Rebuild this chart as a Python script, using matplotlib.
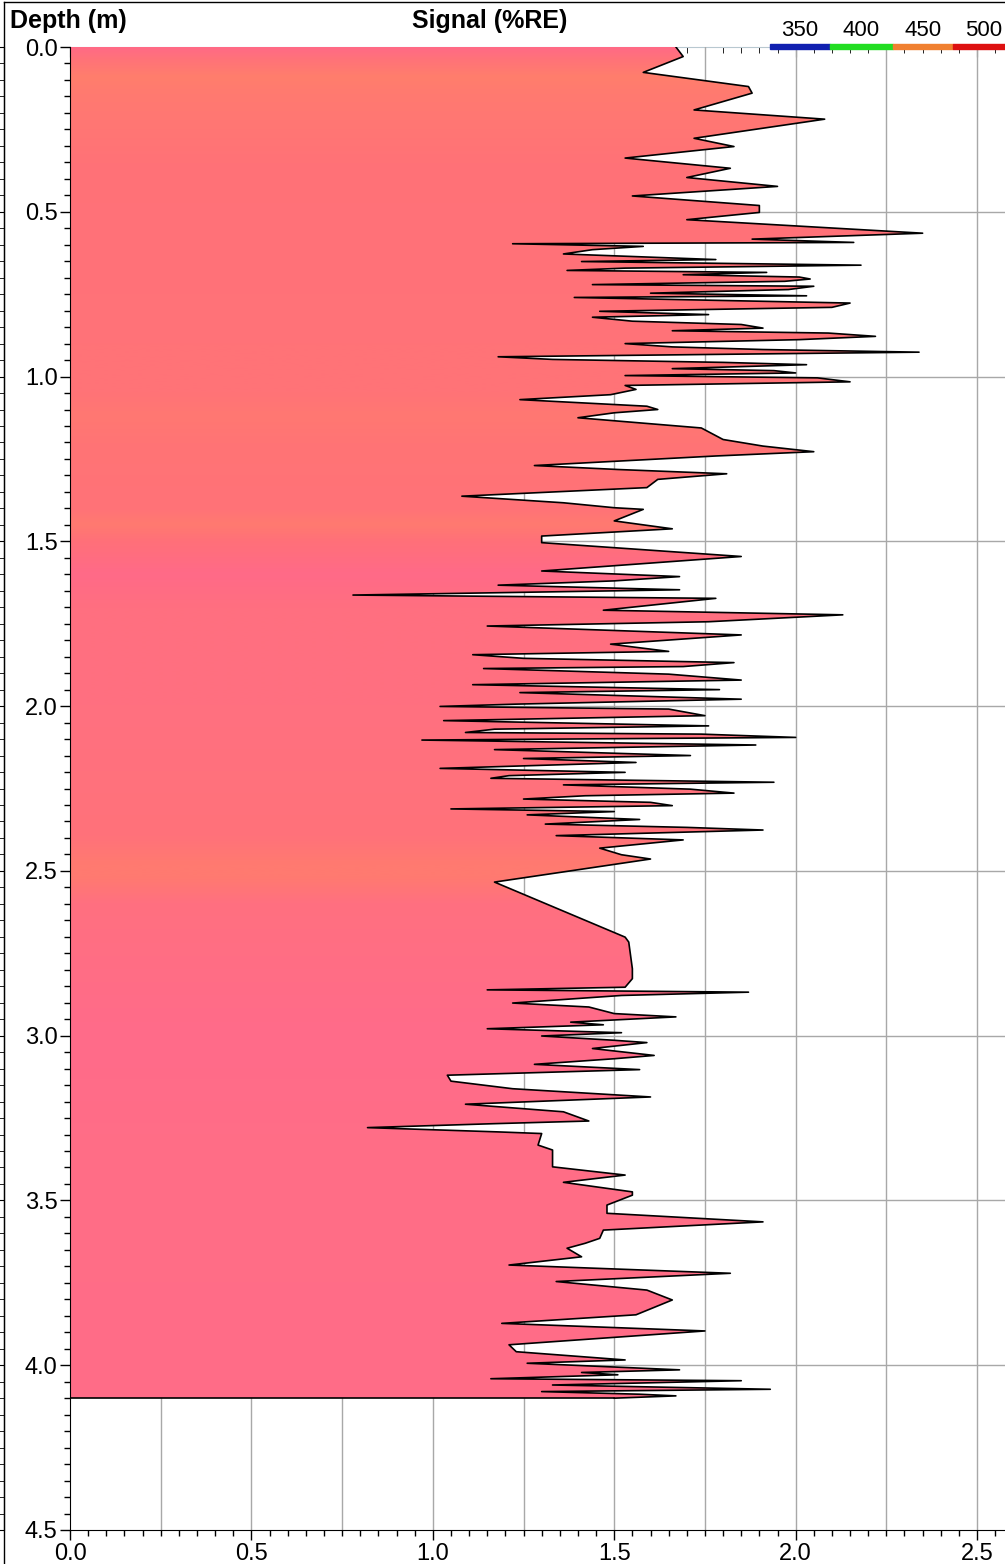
import numpy as np
import matplotlib
matplotlib.use('Agg')
import matplotlib.pyplot as plt
from matplotlib.patches import Polygon, Rectangle
from matplotlib.lines import Line2D
from matplotlib.colors import to_rgb
from matplotlib.ticker import MultipleLocator, FormatStrFormatter

plt.rcParams.update({'font.family': ['Liberation Sans', 'DejaVu Sans']})

# depth (m) and signal (%RE) of the log, top to bottom
depth = [
    0.000, 0.029, 0.077, 0.120, 0.140, 0.191, 0.219, 0.277, 0.302, 0.337,
    0.368, 0.396, 0.423, 0.452, 0.481, 0.502, 0.524, 0.565, 0.583, 0.593,
    0.597, 0.605, 0.615, 0.628, 0.645, 0.651, 0.662, 0.671, 0.678, 0.684,
    0.691, 0.698, 0.704,
    0.711, 0.721, 0.726, 0.736, 0.747, 0.755, 0.760, 0.777, 0.790, 0.802,
    0.812, 0.820, 0.832, 0.842, 0.853, 0.861, 0.868, 0.878, 0.888, 0.900,
    0.910, 0.918, 0.926, 0.940, 0.948, 0.957, 0.964, 0.976, 0.982, 0.989,
    0.997, 1.004, 1.016, 1.027, 1.039, 1.055, 1.070, 1.090, 1.100, 1.110,
    1.125, 1.156, 1.191, 1.211, 1.228, 1.241, 1.270, 1.282, 1.295, 1.312,
    1.337, 1.363, 1.383, 1.398,
    1.403, 1.438, 1.462, 1.484, 1.504, 1.546, 1.590, 1.607, 1.620, 1.633,
    1.647, 1.663, 1.673, 1.709, 1.723, 1.744, 1.757, 1.784, 1.812, 1.834,
    1.844, 1.855, 1.868, 1.880, 1.886, 1.903, 1.921, 1.935, 1.950, 1.959,
    1.979, 1.994, 2.001, 2.009, 2.029, 2.044, 2.060, 2.070, 2.080, 2.085,
    2.095,
    2.103, 2.118, 2.132, 2.150, 2.159, 2.171, 2.189, 2.201, 2.211, 2.219,
    2.231, 2.239, 2.252, 2.264, 2.272, 2.282, 2.292, 2.302, 2.312, 2.320,
    2.330, 2.344, 2.358, 2.368, 2.376, 2.393, 2.406, 2.431, 2.451, 2.464,
    2.534, 2.701, 2.716, 2.797,
    2.827, 2.853, 2.861, 2.868, 2.878, 2.901, 2.913, 2.933, 2.943, 2.959,
    2.967, 2.979, 2.991, 3.001, 3.014, 3.021, 3.039, 3.060, 3.070, 3.087,
    3.103, 3.120, 3.138, 3.161, 3.186, 3.208, 3.231, 3.259, 3.267, 3.279,
    3.292, 3.297, 3.332, 3.347, 3.398, 3.423, 3.445, 3.474,
    3.484, 3.514, 3.539, 3.565, 3.590, 3.615, 3.630, 3.645, 3.671, 3.696,
    3.721, 3.746, 3.772, 3.802, 3.847, 3.873, 3.896, 3.938, 3.959, 3.984,
    3.994, 4.014, 4.022, 4.029, 4.041, 4.047, 4.060, 4.073, 4.080, 4.088,
    4.093, 4.100,
]
signal = [
    1.67, 1.69, 1.58, 1.87, 1.88, 1.72, 2.08, 1.72, 1.83, 1.53,
    1.82, 1.70, 1.95, 1.55, 1.90, 1.90, 1.70, 2.35, 1.88, 2.16,
    1.22, 1.58, 1.44, 1.36, 1.78, 1.41, 2.18, 1.53, 1.37, 1.92,
    1.69, 2.01, 2.04,
    1.97, 1.44, 2.05, 1.98, 1.60, 2.03, 1.39, 2.15, 2.10, 1.46,
    1.76, 1.44, 1.55, 1.85, 1.91, 1.66, 2.09, 2.22, 2.01, 1.53,
    1.66, 1.91, 2.34, 1.18, 1.33, 1.80, 2.03, 1.66, 1.94, 2.00,
    1.53, 2.06, 2.15, 1.53, 1.56, 1.49, 1.24, 1.59, 1.62, 1.50,
    1.40, 1.74, 1.80, 1.91, 2.05, 1.78, 1.28, 1.51, 1.81, 1.62,
    1.59, 1.08, 1.36, 1.50,
    1.58, 1.50, 1.66, 1.30, 1.30, 1.85, 1.30, 1.68, 1.50, 1.18,
    1.68, 0.78, 1.78, 1.47, 2.13, 1.76, 1.15, 1.85, 1.49, 1.65,
    1.11, 1.25, 1.83, 1.69, 1.14, 1.65, 1.85, 1.11, 1.79, 1.24,
    1.85, 1.23, 1.02, 1.65, 1.75, 1.03, 1.76, 1.17, 1.09, 1.74,
    2.00,
    0.97, 1.89, 1.17, 1.71, 1.25, 1.56, 1.02, 1.53, 1.21, 1.16,
    1.94, 1.36, 1.71, 1.83, 1.42, 1.25, 1.60, 1.66, 1.05, 1.50,
    1.26, 1.57, 1.31, 1.70, 1.91, 1.34, 1.69, 1.46, 1.52, 1.60,
    1.17, 1.53, 1.54, 1.55,
    1.55, 1.53, 1.15, 1.87, 1.52, 1.22, 1.43, 1.50, 1.67, 1.38,
    1.47, 1.15, 1.52, 1.30, 1.50, 1.59, 1.44, 1.61, 1.50, 1.28,
    1.57, 1.04, 1.05, 1.22, 1.60, 1.09, 1.36, 1.43, 1.17, 0.82,
    1.18, 1.30, 1.29, 1.33, 1.33, 1.53, 1.36, 1.55,
    1.55, 1.48, 1.48, 1.91, 1.47, 1.46, 1.42, 1.37, 1.41, 1.21,
    1.82, 1.34, 1.59, 1.66, 1.56, 1.19, 1.75, 1.21, 1.23, 1.53,
    1.26, 1.68, 1.41, 1.51, 1.16, 1.85, 1.33, 1.93, 1.30, 1.57,
    1.67, 1.50,
]

# fill colour key stops down the log
color_depths = [0.00, 0.04, 0.09, 0.14, 0.25, 0.35, 0.60, 0.90, 1.05, 1.12,
                1.20, 1.40, 1.45, 1.50, 1.60, 1.70, 2.00, 2.40, 2.48, 2.52,
                2.60, 3.00, 3.40, 4.10]
color_hex = ['#FF6A86', '#FF7378', '#FF7E6C', '#FF7A70', '#FF7674', '#FF7277',
             '#FF7179', '#FF7378', '#FF7377', '#FF7872', '#FF7475', '#FF7278',
             '#FF7A70', '#FF7079', '#FF6A88', '#FF6F80', '#FF7080', '#FF727A',
             '#FF7A70', '#FF7A70', '#FF7080', '#FF6B8A', '#FF6E86', '#FF6C88']

legend_labels = ['350', '400', '450', '500']
legend_colors = ['#1020B0', '#22DD22', '#F08030', '#DD1010']

W, H = 1005, 1564
fig = plt.figure(figsize=(W / 100, H / 100), dpi=100)
L, R, T, B = 70, 1005, 47, 1530
ax = fig.add_axes([L / W, 1 - B / H, (R - L) / W, (B - T) / H])

# vertical colour gradient clipped to the log outline
zz = np.linspace(0, depth[-1], 600)
rgb = np.array([to_rgb(c) for c in color_hex])
img = np.stack([np.interp(zz, color_depths, rgb[:, k]) for k in range(3)], axis=-1)[:, None, :]
im = ax.imshow(img, extent=[0, 3, depth[-1], 0], aspect='auto', interpolation='bilinear', zorder=2)
verts = [(0, depth[0])] + list(zip(signal, depth)) + [(0, depth[-1])]
outline = Polygon(verts, closed=True, facecolor='none', edgecolor='none')
ax.add_patch(outline)
im.set_clip_path(outline)

ax.plot(signal, depth, color='black', lw=1.2, zorder=3)
ax.plot([0, signal[-1]], [depth[-1], depth[-1]], color='black', lw=1.2, zorder=3)

for gx in np.arange(0.25, 2.6, 0.25):
    ax.axvline(gx, color='#A8A8A8', lw=1.0, zorder=1)
for gy in np.arange(0.5, 4.5, 0.5):
    ax.axhline(gy, color='#A8A8A8', lw=1.0, zorder=1)

ax.set_xlim(0, 2.577)
ax.set_ylim(4.5, 0)
ax.spines['right'].set_visible(False)
ax.spines['top'].set_visible(False)
ax.xaxis.set_major_locator(MultipleLocator(0.5))
ax.xaxis.set_minor_locator(MultipleLocator(0.05))
ax.yaxis.set_major_locator(MultipleLocator(0.5))
ax.yaxis.set_minor_locator(MultipleLocator(0.05))
ax.xaxis.set_major_formatter(FormatStrFormatter('%.1f'))
ax.yaxis.set_major_formatter(FormatStrFormatter('%.1f'))
ax.tick_params(which='major', direction='out', length=7, width=1, labelsize=17, pad=2)
ax.tick_params(which='minor', direction='out', length=4, width=1)

top = ax.secondary_xaxis('top')
top.xaxis.set_major_locator(MultipleLocator(0.5))
top.xaxis.set_minor_locator(MultipleLocator(0.05))
top.tick_params(which='major', direction='in', length=7, labeltop=False)
top.tick_params(which='minor', direction='in', length=4)
top.spines['top'].set_color('#B8C8D0')

# outer frame with its own depth ticks
edge = fig.add_axes([4 / W, 1 - B / H, 0.001, (B - T) / H])
edge.set_ylim(4.5, 0)
for s in ['right', 'top', 'bottom']:
    edge.spines[s].set_visible(False)
edge.set_xticks([])
edge.yaxis.set_major_locator(MultipleLocator(0.5))
edge.yaxis.set_minor_locator(MultipleLocator(0.05))
edge.tick_params(which='both', direction='out', length=4, labelleft=False)
edge.patch.set_visible(False)
fig.add_artist(Line2D([4 / W, 4 / W], [0, 1 - 2 / H], color='black', lw=1))
fig.add_artist(Line2D([4 / W, 1], [1 - 2 / H, 1 - 2 / H], color='black', lw=1))

fig.text(10 / W, 1 - 21 / H, 'Depth (m)', fontsize=18, fontweight='bold', va='center', ha='left')
fig.text(490 / W, 1 - 21 / H, 'Signal (%RE)', fontsize=18, fontweight='bold', va='center', ha='center')

seg_x = [770, 830, 893, 953, 1015]
for i, (lab, col) in enumerate(zip(legend_labels, legend_colors)):
    x0, x1 = seg_x[i], seg_x[i + 1]
    fig.add_artist(Rectangle((x0 / W, 1 - 49 / H), (x1 - x0) / W, 5 / H, color=col,
                             transform=fig.transFigure))
    fig.text((x0 + x1) / 2 / W, 1 - 30 / H, lab, fontsize=16, ha='center', va='center')

fig.savefig('out.png', dpi=100)
